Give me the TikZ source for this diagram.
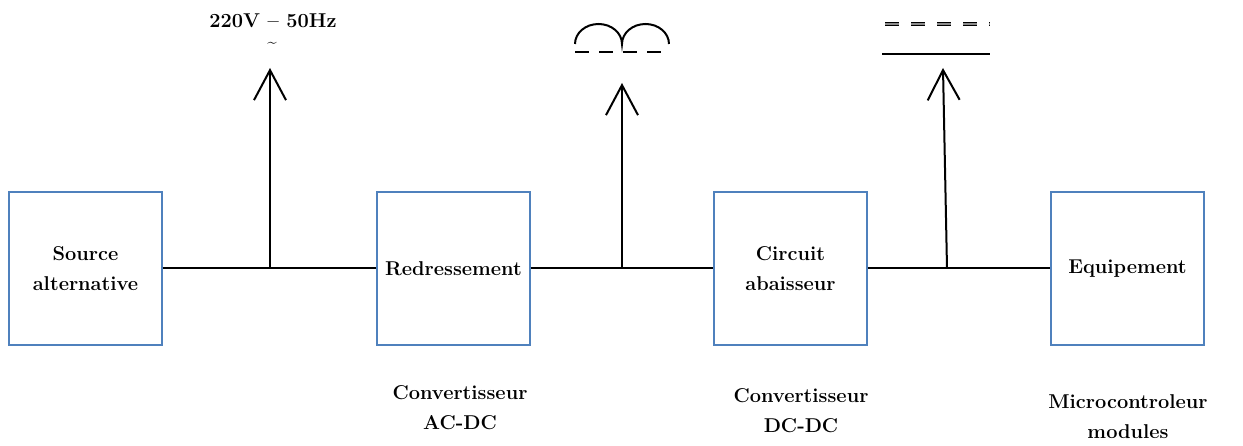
\documentclass[tikz,border=0pt]{standalone}
\usetikzlibrary{arrows.meta}
\begin{document}
\begin{tikzpicture}[x=1pt,y=-1pt,
  blk/.style={draw={rgb,255:red,79;green,129;blue,189},line width=1.2pt,minimum width=153pt,minimum height=153pt,inner sep=0pt,align=center,font=\fontsize{20}{30}\selectfont\bfseries},
  lbl/.style={align=center,font=\fontsize{20}{30}\selectfont\bfseries},
  wire/.style={line width=2pt,black},
  up/.style={wire,-{Straight Barb[length=30pt,width=32pt,line width=2pt]}}]
\useasboundingbox (0,0) rectangle (1243,446);
\node[blk] (b1) at (85.5,268.5) {Source\\alternative};
\node[blk] (b2) at (453.5,268.5) {Redressement};
\node[blk] (b3) at (790.5,268.5) {Circuit\\abaisseur};
\node[blk] (b4) at (1127.5,268.5) {Equipement};
\coordinate (j1) at (270,268);
\coordinate (j2) at (622,268);
\coordinate (j3) at (947,268);
\coordinate (t1) at (270,68);
\coordinate (t2) at (622,83);
\coordinate (t3) at (943,68);
\draw[wire] (b1.east) -- (b2.west);
\draw[wire] (b2.east) -- (b3.west);
\draw[wire] (b3.east) -- (b4.west);
\draw[up] (j1) -- (t1);
\draw[up] (j2) -- (t2);
\draw[up] (j3) -- (t3);
% labels
\node[lbl] (v) at (273,21) {220V -- 50Hz};
\node[lbl,font=\fontsize{17}{20}\selectfont\bfseries] (tl) at (272,45) {\char`\~};
% rectified symbol
\draw[wire] (575,44) arc[start angle=180,end angle=360,x radius=23.5,y radius=20] arc[start angle=180,end angle=360,x radius=23.5,y radius=20];
\draw[wire,dash pattern=on 14pt off 10pt] (575,52) -- (670,52);
% DC symbol
\draw[line width=0.8pt,double=black!45,double distance=2.2pt,dash pattern=on 14pt off 12pt] (885,24) -- (990,24);
\draw[wire] (882,54) -- (990,54);
% bottom labels
\node[lbl] (c1) at (460,408) {Convertisseur\\AC-DC};
\node[lbl] (c2) at (801,411) {Convertisseur\\DC-DC};
\node[lbl] (c3) at (1128,417) {Microcontroleur\\modules};
\end{tikzpicture}
\end{document}
